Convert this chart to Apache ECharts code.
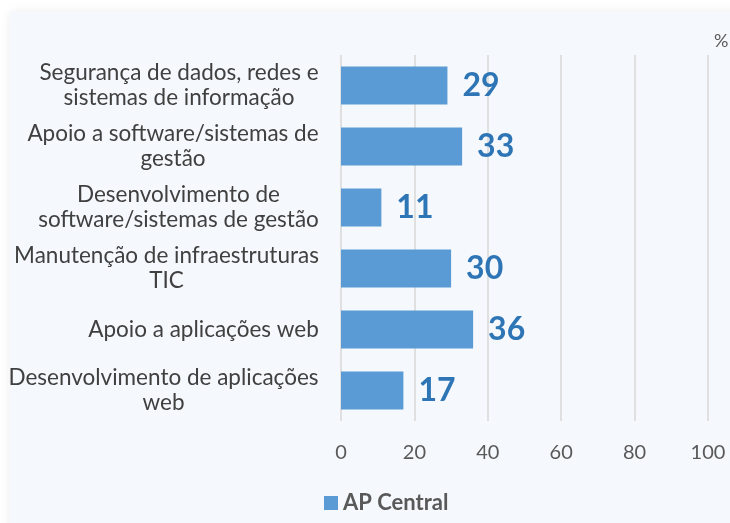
<!DOCTYPE html>
<html><head><meta charset="utf-8">
<script src="https://cdn.jsdelivr.net/npm/echarts@6/dist/echarts.min.js"></script>
<style>html,body{margin:0;padding:0;background:#fff;}#c{width:730px;height:523px;}</style>
</head><body><div id="c"></div>
<script>
const categories = [
  "Segurança de dados, redes e\nsistemas de informação",
  "Apoio a software/sistemas de\ngestão",
  "Desenvolvimento de\nsoftware/sistemas de gestão",
  "Manutenção de infraestruturas\nTIC",
  "Apoio a aplicações web",
  "Desenvolvimento de aplicações\nweb"
];
const values = [29, 33, 11, 30, 36, 17];
const seriesName = "AP Central";
const xTicks = [0, 20, 40, 60, 80, 100];

const FONT = "Lato";
const CAT_SIZE = 22.5;
const cv = document.createElement("canvas").getContext("2d");
cv.font = CAT_SIZE + "px " + FONT;
const rich = {};
categories.forEach((c, i) => {
  const w = Math.max(...c.split("\n").map(l => cv.measureText(l).width));
  rich["r" + i] = { width: Math.ceil(w) + 2, align: "center", fontSize: CAT_SIZE, fontFamily: FONT, color: "#404040", lineHeight: 25 };
});

const chart = echarts.init(document.getElementById("c"));
chart.setOption({
  backgroundColor: "#ffffff",
  animation: false,
  graphic: [
    { type: "rect", z: -10, silent: true, shape: { x: 10, y: 12, width: 730, height: 520 },
      style: { fill: "#f5f8fc", shadowBlur: 10, shadowColor: "rgba(0,0,0,0.08)" } },
    { type: "text", left: 714, top: 32, style: { text: "%", font: "18px " + FONT, fill: "#595959" } }
  ],
  grid: { left: 341, right: 22, top: 55, bottom: 102, containLabel: false },
  legend: {
    bottom: 4, left: 319, itemWidth: 14, itemHeight: 14, itemGap: 6,
    icon: "rect",
    textStyle: { fontFamily: FONT, fontSize: 22, fontWeight: "bold", color: "#595959" },
    data: [seriesName]
  },
  xAxis: {
    type: "value", min: 0, max: 100, interval: 20,
    axisLine: { show: false }, axisTick: { show: false },
    splitLine: { lineStyle: { color: "#d9d9d9", width: 1.5 } },
    axisLabel: { margin: 22, fontFamily: FONT, fontSize: 20, color: "#595959",
      formatter: v => xTicks.includes(v) ? String(v) : "" }
  },
  yAxis: {
    type: "category", inverse: true, data: categories,
    axisLine: { show: false }, axisTick: { show: false },
    axisLabel: {
      margin: 21, align: "right",
      formatter: (v, i) => v.split("\n").map(l => "{r" + i + "|" + l + "}").join("\n"),
      rich: rich
    }
  },
  series: [{
    name: seriesName, type: "bar", data: values, barWidth: "62%",
    itemStyle: { color: "#5b9bd5" },
    label: { show: true, position: "right", distance: 15,
      fontFamily: FONT, fontSize: 32, fontWeight: "bold", color: "#2e75b6" }
  }]
});
</script></body></html>
